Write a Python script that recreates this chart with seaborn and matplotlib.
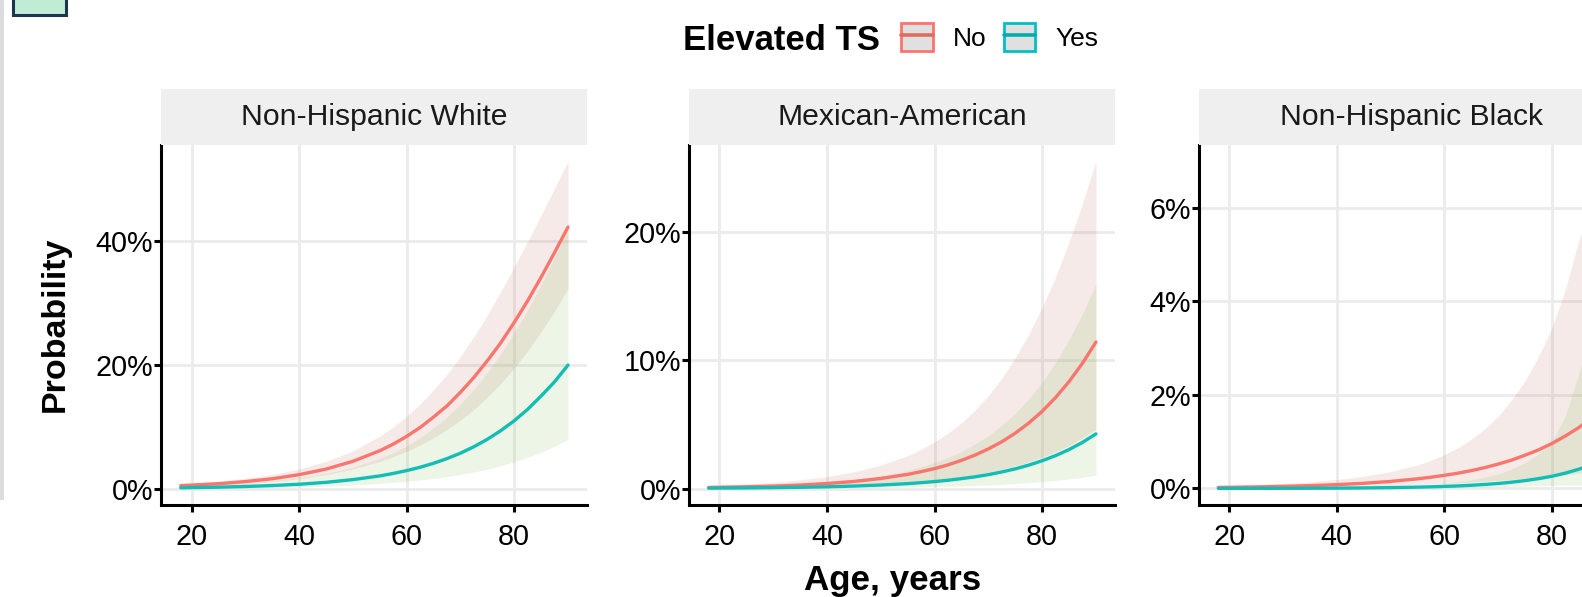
import matplotlib
matplotlib.use("Agg")
import matplotlib.pyplot as plt
import matplotlib.ticker as mticker
from matplotlib.patches import Rectangle, Patch
from matplotlib.lines import Line2D
from matplotlib.legend_handler import HandlerTuple
import seaborn as sns
import pandas as pd

sns.set_theme(style="white")
plt.rcParams['font.family'] = ['Liberation Sans', 'DejaVu Sans']
plt.rcParams['text.color'] = 'black'
plt.rcParams['axes.labelcolor'] = 'black'

# ---- data (probability in %) ----
ages = [18, 25, 30, 35, 40, 45, 50, 55, 57.5, 60, 62.5, 65, 67.5, 70,
        72.5, 75, 77.5, 80, 82.5, 85, 87.5, 90]
panels = ["Non-Hispanic White", "Mexican-American", "Non-Hispanic Black"]
groups = ["No", "Yes"]

white_no = [0.51, 0.82, 1.16, 1.62, 2.28, 3.18, 4.44, 6.15, 7.22, 8.47, 9.91,
            11.6, 13.4, 15.6, 18.0, 20.7, 23.6, 26.9, 30.4, 34.2, 38.2, 42.3]
white_no_lo = [0.33, 0.55, 0.79, 1.14, 1.61, 2.29, 3.20, 4.42, 5.18, 6.06, 7.08,
               8.24, 9.58, 11.1, 12.8, 14.8, 17.0, 19.5, 22.3, 25.4, 28.7, 32.3]
white_no_hi = [0.77, 1.22, 1.68, 2.31, 3.20, 4.42, 6.12, 8.51, 10.0, 11.7, 13.7,
               16.0, 18.5, 21.4, 24.6, 28.1, 31.9, 35.9, 40.0, 44.3, 48.6, 53.0]
white_yes = [0.16, 0.26, 0.37, 0.52, 0.73, 1.04, 1.48, 2.08, 2.48, 2.94, 3.48,
             4.12, 4.88, 5.76, 6.80, 8.0, 9.40, 11.0, 12.85, 15.0, 17.3, 20.0]
white_yes_lo = [0.058, 0.098, 0.142, 0.207, 0.30, 0.435, 0.617, 0.866, 1.03, 1.22, 1.42,
                1.67, 1.96, 2.31, 2.70, 3.16, 3.71, 4.35, 5.07, 5.91, 6.87, 7.97]
white_yes_hi = [0.426, 0.67, 0.94, 1.29, 1.79, 2.48, 3.48, 4.93, 5.85, 6.93, 8.26,
                9.83, 11.6, 13.7, 16.1, 18.8, 21.8, 25.2, 28.9, 33.0, 37.4, 41.9]

mex_no = [0.083, 0.136, 0.19, 0.27, 0.39, 0.55, 0.78, 1.10, 1.31, 1.55, 1.84,
          2.19, 2.60, 3.08, 3.64, 4.31, 5.09, 6.01, 7.08, 8.32, 9.75, 11.4]
mex_no_lo = [0.031, 0.053, 0.077, 0.11, 0.16, 0.23, 0.33, 0.47, 0.554, 0.66, 0.777,
             0.92, 1.08, 1.27, 1.50, 1.76, 2.07, 2.44, 2.86, 3.36, 3.94, 4.61]
mex_no_hi = [0.22, 0.35, 0.48, 0.67, 0.93, 1.30, 1.82, 2.56, 3.05, 3.63, 4.31,
             5.12, 6.09, 7.24, 8.59, 10.2, 12.0, 14.1, 16.45, 19.2, 22.2, 25.5]
mex_yes = [0.029, 0.047, 0.067, 0.094, 0.134, 0.19, 0.27, 0.38, 0.454, 0.54, 0.643,
           0.77, 0.91, 1.08, 1.29, 1.53, 1.82, 2.16, 2.56, 3.03, 3.59, 4.25]
mex_yes_lo = [0.007, 0.012, 0.017, 0.025, 0.036, 0.051, 0.073, 0.102, 0.121, 0.144, 0.17,
              0.20, 0.235, 0.277, 0.327, 0.385, 0.454, 0.54, 0.63, 0.74, 0.875, 1.03]
mex_yes_hi = [0.12, 0.19, 0.26, 0.36, 0.50, 0.70, 0.99, 1.41, 1.69, 2.01, 2.41,
              2.89, 3.46, 4.13, 4.93, 5.87, 6.98, 8.28, 9.80, 11.6, 13.6, 15.9]

black_no = [0.021, 0.032, 0.044, 0.060, 0.081, 0.11, 0.15, 0.205, 0.24, 0.28, 0.326,
            0.38, 0.444, 0.52, 0.605, 0.71, 0.823, 0.96, 1.12, 1.30, 1.52, 1.77]
black_no_lo = [0.008, 0.012, 0.018, 0.025, 0.035, 0.047, 0.063, 0.084, 0.095, 0.108, 0.122,
               0.138, 0.154, 0.173, 0.192, 0.214, 0.237, 0.263, 0.292, 0.325, 0.373, 0.43]
black_no_hi = [0.056, 0.083, 0.107, 0.14, 0.19, 0.26, 0.36, 0.50, 0.602, 0.72, 0.869,
               1.05, 1.27, 1.54, 1.89, 2.30, 2.81, 3.43, 4.25, 5.3, 6.1, 7.0]
black_yes = [0.001, 0.0018, 0.003, 0.0045, 0.007, 0.011, 0.0176, 0.028, 0.0345, 0.043, 0.054,
             0.068, 0.085, 0.106, 0.133, 0.167, 0.209, 0.26, 0.327, 0.41, 0.511, 0.64]
black_yes_lo = [0.0004, 0.0007, 0.0012, 0.002, 0.003, 0.0047, 0.0074, 0.011, 0.0137, 0.017, 0.0204,
                0.025, 0.030, 0.036, 0.0426, 0.05, 0.0584, 0.068, 0.073, 0.075, 0.077, 0.079]
black_yes_hi = [0.0027, 0.0045, 0.007, 0.011, 0.017, 0.026, 0.042, 0.068, 0.087, 0.112, 0.144,
                0.184, 0.24, 0.31, 0.415, 0.55, 0.74, 1.0, 1.55, 2.45, 3.45, 4.99]

x_ticks = [20, 40, 60, 80]
y_ticks = {"Non-Hispanic White": [0, 20, 40],
           "Mexican-American": [0, 10, 20],
           "Non-Hispanic Black": [0, 2, 4, 6]}

series = {
    ("Non-Hispanic White", "No"): (white_no, white_no_lo, white_no_hi),
    ("Non-Hispanic White", "Yes"): (white_yes, white_yes_lo, white_yes_hi),
    ("Mexican-American", "No"): (mex_no, mex_no_lo, mex_no_hi),
    ("Mexican-American", "Yes"): (mex_yes, mex_yes_lo, mex_yes_hi),
    ("Non-Hispanic Black", "No"): (black_no, black_no_lo, black_no_hi),
    ("Non-Hispanic Black", "Yes"): (black_yes, black_yes_lo, black_yes_hi),
}

rows = []
for (p, g), (est, lo, hi) in series.items():
    for a, e, l, h in zip(ages, est, lo, hi):
        rows.append({"panel": p, "ts": g, "age": a, "est": e, "lo": l, "hi": h})
df = pd.DataFrame(rows)

line_colors = {"No": "#F8766D", "Yes": "#12BDB5"}
band_colors = {"No": "#b4583f", "Yes": "#71b43f"}

# ---- layout in pixels ----
W, H = 1582, 597
fig = plt.figure(figsize=(W / 100, H / 100), dpi=100)


def fig_box(x0, y0, x1, y1):
    return [x0 / W, 1 - y1 / H, (x1 - x0) / W, (y1 - y0) / H]


panel_left = [161.4, 689.3, 1199.0]
panel_w = 426
ax_top, ax_bot, strip_top = 144.5, 504.8, 88.8

xr = max(ages) - min(ages)
xlim = (min(ages) - 0.05 * xr, max(ages) + 0.05 * xr)

for p, left in zip(panels, panel_left):
    ax = fig.add_axes(fig_box(left, ax_top, left + panel_w, ax_bot))
    sub = df[df.panel == p]
    for g in groups:
        s = sub[sub.ts == g]
        ax.fill_between(s.age, s.lo, s.hi, color=band_colors[g], alpha=0.12,
                        lw=0, zorder=1)
    sns.lineplot(data=sub, x="age", y="est", hue="ts", palette=line_colors,
                 lw=2.4, ax=ax, legend=False, errorbar=None, zorder=3)
    ymin, ymax = sub.lo.min(), sub.hi.max()
    pad = 0.05 * (ymax - ymin)
    ax.set_ylim(ymin - pad, ymax + pad)
    ax.set_xlim(*xlim)
    ax.set_xticks(x_ticks)
    ax.set_yticks(y_ticks[p])
    ax.yaxis.set_major_formatter(mticker.PercentFormatter(decimals=0))
    ax.grid(True, color="#ebebeb", lw=2)
    ax.set_axisbelow(True)
    for side in ["top", "right"]:
        ax.spines[side].set_visible(False)
    for side in ["left", "bottom"]:
        ax.spines[side].set_color("black")
        ax.spines[side].set_linewidth(2.2)
    ax.tick_params(axis="both", direction="out", length=5, width=2.2,
                   color="black", labelcolor="black", labelsize=20.7,
                   bottom=True, left=True)
    ax.tick_params(axis="y", pad=0.8)
    ax.tick_params(axis="x", pad=8)
    ax.set_xlabel("")
    ax.set_ylabel("")

    sax = fig.add_axes(fig_box(left, strip_top, left + panel_w, ax_top))
    sax.set_facecolor("#efefef")
    sax.set_xticks([])
    sax.set_yticks([])
    for sp in sax.spines.values():
        sp.set_visible(False)
    sax.text(0.5, 0.5, p, ha="center", va="center", fontsize=21.7,
             color="#1a1a1a", transform=sax.transAxes)

fig.text(55.5 / W, 1 - 324.6 / H, "Probability", rotation=90, ha="center",
         va="center", fontsize=24.5, fontweight="bold")
fig.text(893 / W, 1 - 590 / H, "Age, years", ha="center", va="baseline",
         fontsize=25.2, fontweight="bold")

# legend
fig.text(683 / W, 1 - 49.7 / H, "Elevated TS", ha="left", va="baseline",
         fontsize=25, fontweight="bold")
handles = [(Patch(fc="#e0e0e0", ec="#F8766D", lw=2),
            Line2D([], [], color="#df6c5e", lw=2.6)),
           (Patch(fc="#e0e0e0", ec="#00BFC4", lw=2),
            Line2D([], [], color="#00AEB0", lw=2.6))]
fig.legend(handles=handles, labels=groups,
           handler_map={tuple: HandlerTuple(ndivide=1, pad=0)},
           loc="center left", bbox_to_anchor=(901 / W, 1 - 37.3 / H),
           ncol=2, frameon=False, fontsize=19, handlelength=1.2,
           handleheight=1.25, handletextpad=0.77, columnspacing=0.65,
           borderpad=0, borderaxespad=0)

# screenshot edges: grey strip and the corner of a box above
fig.patches.append(Rectangle((0, 1 - 500 / H), 4 / W, 500 / H,
                             transform=fig.transFigure, fc="#dcdcdc",
                             ec="none"))
fig.patches.append(Rectangle((13 / W, 1 - 15 / H), 53 / W, 25 / H,
                             transform=fig.transFigure, fc="#c0ecd6",
                             ec="#1e3550", lw=2.2))

fig.savefig("out.png", dpi=100)
